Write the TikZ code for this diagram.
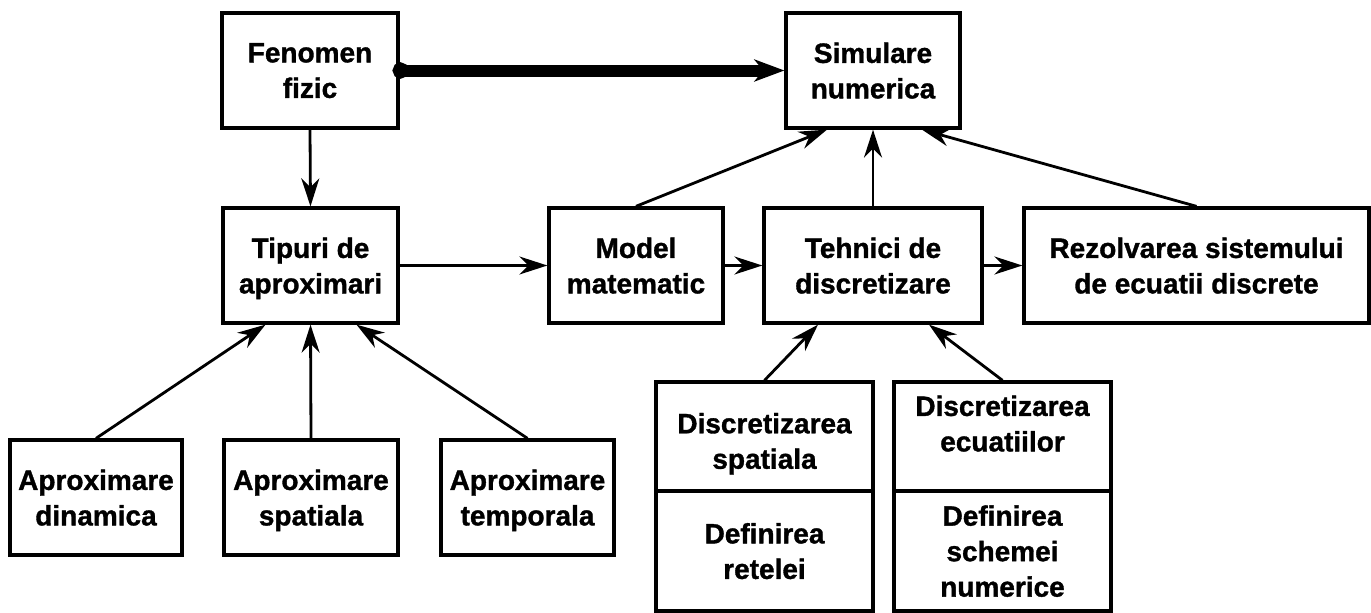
\documentclass[tikz,border=0pt]{standalone}
\usepackage{fontspec}
\setmainfont{Liberation Sans}[BoldFeatures={FakeBold=1.2}]
\usetikzlibrary{arrows.meta}
\begin{document}
\begin{tikzpicture}[x=1pt,y=-1pt,
  box/.style={draw, line width=3.3pt, inner sep=0pt, align=center,
    font=\bfseries\fontsize{28}{35.5}\selectfont, text depth=0pt},
  conn/.style={line width=2.8pt, -{Stealth[length=28pt,width=18pt,inset=9pt]}},
  heavy/.style={line width=12pt, {Circle[length=16pt]}-{Stealth[length=30pt,width=22pt,inset=9pt]}}]
\useasboundingbox (0,0) rectangle (1371,613);
\clip (0,0) rectangle (1371,613);

\node[box, minimum width=176, minimum height=115] (fen) at (310,70.5) {Fenomen\\fizic};
\node[box, minimum width=174, minimum height=115] (sim) at (873,70.5) {Simulare\\numerica};
\node[box, minimum width=175, minimum height=115] (tip) at (310.5,265.5) {Tipuri de\\aproximari};
\node[box, minimum width=174, minimum height=115] (mod) at (636,265.5) {Model\\matematic};
\node[box, minimum width=218, minimum height=115] (teh) at (873,265.5) {Tehnici de\\discretizare};
\node[box, minimum width=345, minimum height=115] (rez) at (1196.5,265.5) {Rezolvarea sistemului\\de ecuatii discrete};
\node[box, minimum width=172, minimum height=115] (ad) at (96,497.5) {Aproximare\\dinamica};
\node[box, minimum width=174, minimum height=115] (as) at (311,497.5) {Aproximare\\spatiala};
\node[box, minimum width=173, minimum height=115] (at) at (527.5,497.5) {Aproximare\\temporala};
\node[box, minimum width=217, minimum height=109, text height=64.5pt] (lst) at (764.5,436.5) {Discretizarea\\spatiala};
\node[box, minimum width=217, minimum height=120] (lsb) at (764.5,551) {Definirea\\retelei};
\node[box, minimum width=217, minimum height=109, text depth=26pt] (rst) at (1002.5,436.5) {Discretizarea\\ecuatiilor};
\node[box, minimum width=217, minimum height=120] (rsb) at (1002.5,551) {Definirea\\schemei\\numerice};

\draw[heavy] ([xshift=-7pt]fen.east) -- (sim.west);
\draw[conn] (fen.south) -- (tip.north);
\draw[conn] (tip.east) -- (mod.west);
\draw[conn] (mod.east) -- (teh.west);
\draw[conn] (teh.east) -- (rez.west);
\draw[conn] (mod.north) -- ([xshift=-46pt]sim.south);
\draw[conn] (teh.north) -- (sim.south);
\draw[conn] (rez.north) -- ([xshift=49pt]sim.south);
\draw[conn] (ad.north) -- ([xshift=-45pt]tip.south);
\draw[conn] (as.north) -- (tip.south);
\draw[conn] (at.north) -- ([xshift=46pt]tip.south);
\draw[conn] (lst.north) -- ([xshift=-55pt]teh.south);
\draw[conn] (rst.north) -- ([xshift=56pt]teh.south);
\end{tikzpicture}
\end{document}
